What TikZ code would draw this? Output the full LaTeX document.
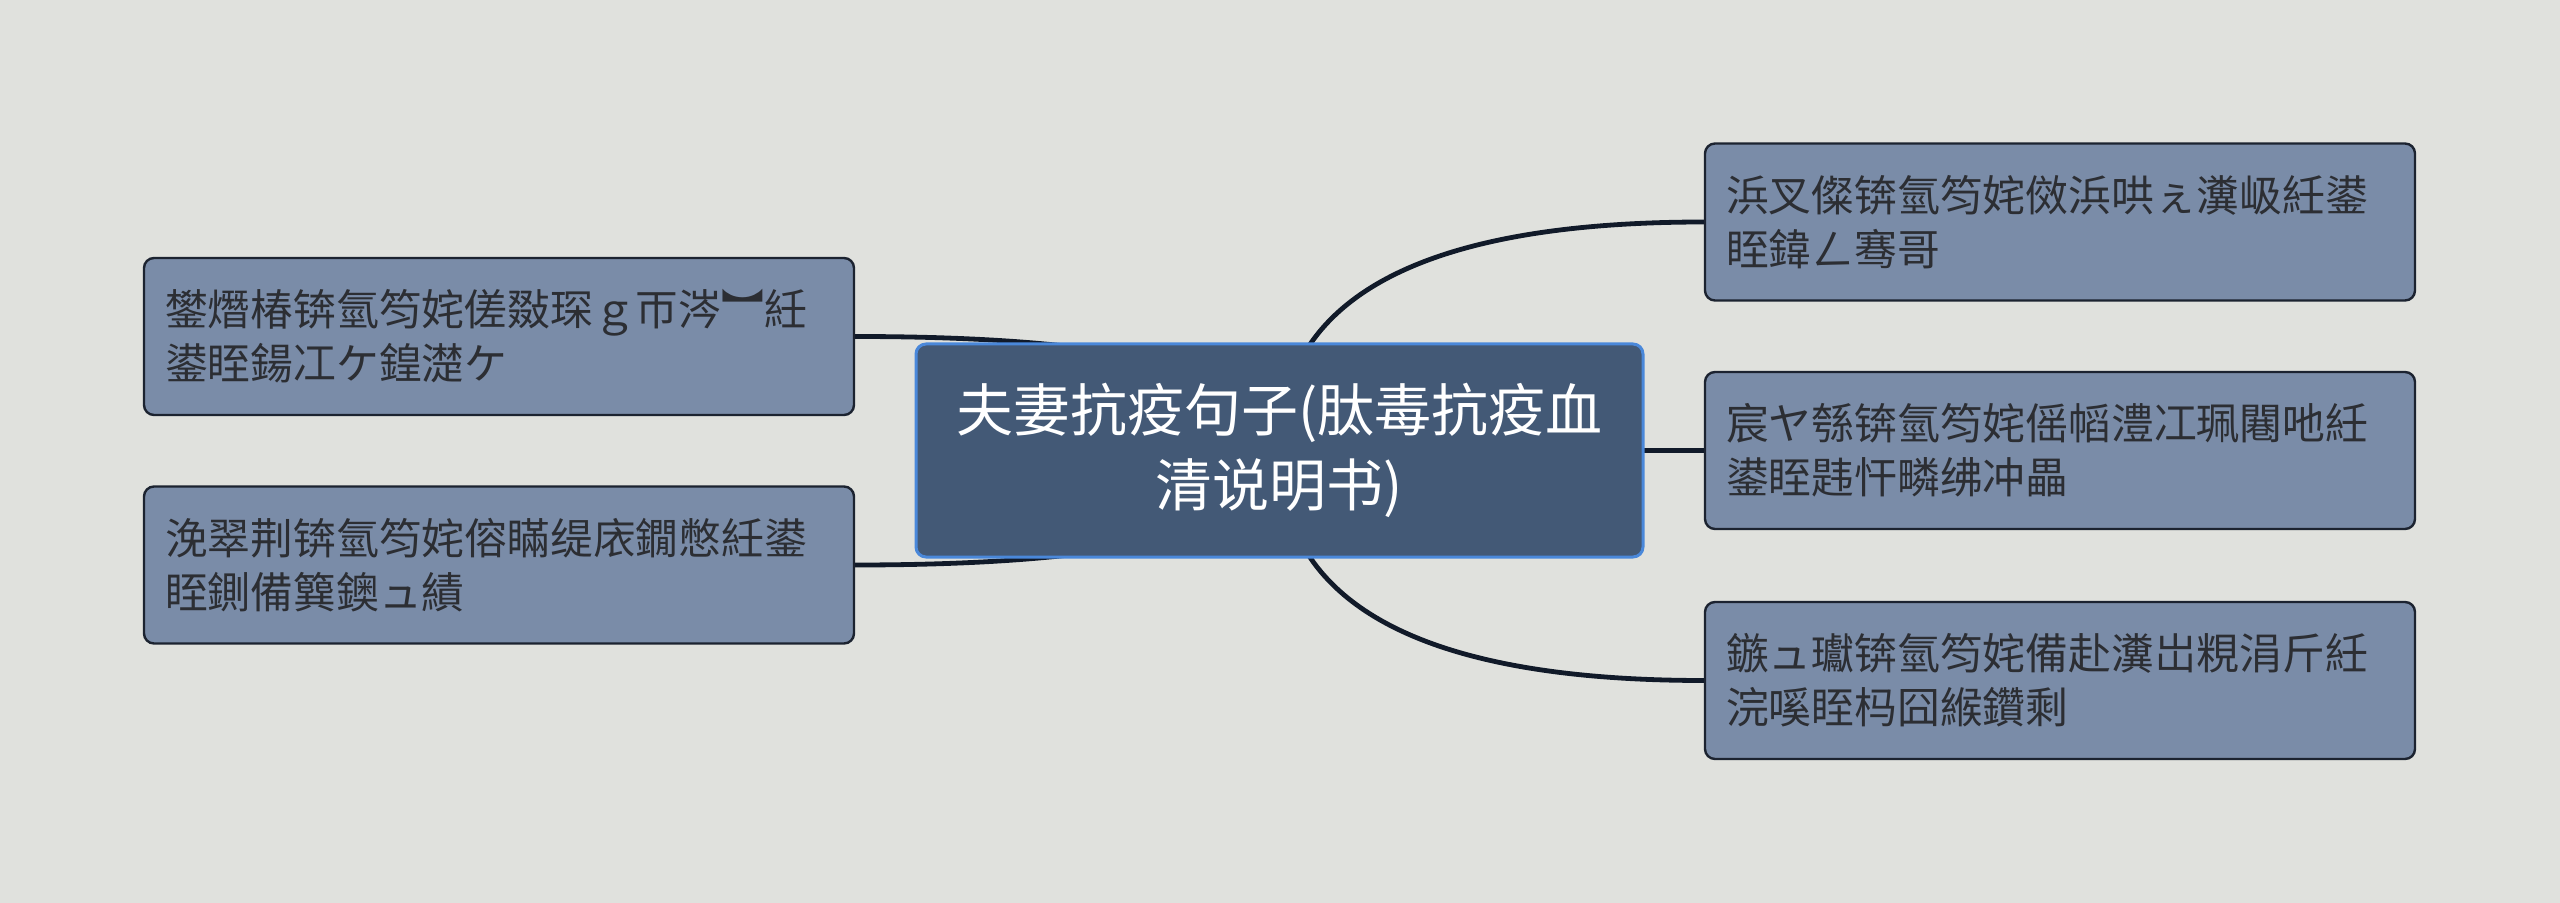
\documentclass[tikz,border=0pt]{standalone}
\usepackage{fontspec}
\usepackage{tikz}
\usetikzlibrary{backgrounds,calc}
\newfontfamily\cjk{Noto Sans CJK SC}
\definecolor{paper}{HTML}{E0E1DD}
\definecolor{topicfill}{HTML}{435976}
\definecolor{topicline}{HTML}{4A88DA}
\definecolor{branchfill}{HTML}{7A8CA8}
\definecolor{branchline}{HTML}{1C2330}
\definecolor{branchtext}{HTML}{2C2E33}
\definecolor{linkcolor}{HTML}{111A29}
\tikzset{topic/.style={draw=topicline,fill=topicfill,line width=1.5pt,rounded corners=5pt,minimum width=363.5pt,minimum height=106.5pt,text width=340pt,inner xsep=11.75pt,align=center,text=white,font=\cjk\fontsize{28.5pt}{37.5pt}\selectfont},branch/.style={draw=branchline,fill=branchfill,line width=1.2pt,rounded corners=5pt,minimum width=355pt,minimum height=78.5pt,text width=334pt,inner xsep=10.5pt,align=left,text=branchtext,font=\cjk\fontsize{21.4pt}{27pt}\selectfont},link/.style={draw=linkcolor,line width=2.4pt}}

\begin{document}
\begin{tikzpicture}[x=0.5pt,y=-0.5pt]
 \useasboundingbox (0,0) rectangle (2560,903);
 \node[topic] (topic) at (1279.5,450.5) {夫妻抗疫句子(肽毒抗疫血\\清说明书)};
 \node[branch] (lt) at (499,336.5) {鐢熸椿锛氫笉姹傞敠琛ｇ帀涔︼紝\\鍙眰鍚冮ケ鍠濋ケ};
 \node[branch] (lb) at (499,565) {浼翠荆锛氫笉姹傛瞞缇庡鐗憋紝鍙\\眰鍘備簨鐭ュ績};
 \node[branch] (rt) at (2060,222) {浜叉儏锛氫笉姹傚浜哄ぇ瀵岋紝鍙\\眰鍏ㄥ骞哥};
 \node[branch] (rm) at (2060,450.5) {宸ヤ綔锛氫笉姹傜幍澧冮珮闀吔紝\\鍙眰韪忓疄绋冲畾};
 \node[branch] (rb) at (2060,680.5) {鏃ュ瓛锛氫笉姹備赴瀵岀粯涓斤紝\\浣嗘眰杩囧緱鑽剩};
 \begin{scope}[on background layer]
   \fill[paper] (0,0) rectangle (2560,903);
   % quadratic bend: corner point straight above/below the topic centre
   \foreach \n/\s in {lt/east,lb/east,rt/west,rm/west,rb/west}
     \draw[link] (topic.center)
       .. controls ($(topic.center)!0.6667!(topic.center |- \n.\s)$)
       and ($(\n.\s)!0.6667!(topic.center |- \n.\s)$) .. (\n.\s);
 \end{scope}
\end{tikzpicture}
\end{document}
